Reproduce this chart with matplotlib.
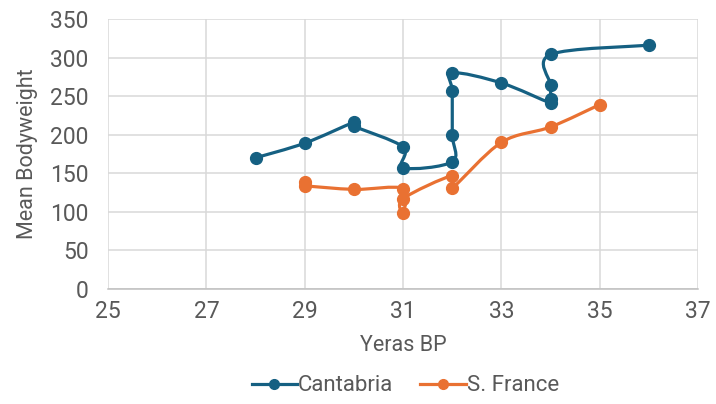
import matplotlib.pyplot as plt
from matplotlib.path import Path
from matplotlib.patches import PathPatch
from matplotlib.lines import Line2D

plt.rcParams['font.family'] = ['Roboto', 'DejaVu Sans']

# Cantabria series (years BP in thousands, mean bodyweight)
cant_x = [28, 29, 30, 30, 31, 31, 32, 32, 32, 32, 33, 34, 34, 34, 34, 36]
cant_y = [170, 189, 216, 211, 184, 157, 165, 200, 256, 280, 267, 241, 246, 264, 304, 316]

# S. France series
fr_x = [29, 29, 30, 31, 31, 31, 32, 32, 33, 34, 35]
fr_y = [138, 134, 129, 130, 99, 117, 147, 131, 190, 210, 239]

x_ticks = [25, 27, 29, 31, 33, 35, 37]
y_ticks = [0, 50, 100, 150, 200, 250, 300, 350]

blue = '#156082'
orange = '#E97132'
grey = '#595959'


def smooth_path(xs, ys):
    # Catmull-Rom style bezier through every point (Excel "smoothed line")
    pts = list(zip(xs, ys))
    verts = [pts[0]]
    codes = [Path.MOVETO]
    n = len(pts)
    for i in range(n - 1):
        p0 = pts[i - 1] if i > 0 else pts[i]
        p1 = pts[i]
        p2 = pts[i + 1]
        p3 = pts[i + 2] if i + 2 < n else pts[i + 1]
        c1 = (p1[0] + (p2[0] - p0[0]) / 6, p1[1] + (p2[1] - p0[1]) / 6)
        c2 = (p2[0] - (p3[0] - p1[0]) / 6, p2[1] - (p3[1] - p1[1]) / 6)
        verts += [c1, c2, p2]
        codes += [Path.CURVE4] * 3
    return Path(verts, codes)


fig = plt.figure(figsize=(7.16, 4.04), dpi=100)
ax = fig.add_axes([0.151, 0.285, 0.824, 0.668])

for xs, ys, col in [(cant_x, cant_y, blue), (fr_x, fr_y, orange)]:
    ax.add_patch(PathPatch(smooth_path(xs, ys), facecolor='none', edgecolor=col,
                           linewidth=2.3, zorder=3, capstyle='round', joinstyle='round'))
    ax.plot(xs, ys, linestyle='none', marker='o', markersize=8.5, color=col, zorder=4)

ax.set_xlim(25, 37)
ax.set_ylim(0, 350)
ax.set_xticks(x_ticks)
ax.set_yticks(y_ticks)
ax.grid(True, color='#d9d9d9', linewidth=1.1, zorder=0)
ax.set_axisbelow(True)
for side in ['top', 'right', 'left']:
    ax.spines[side].set_visible(False)
ax.spines['bottom'].set_color('#bfbfbf')
ax.spines['bottom'].set_linewidth(1.1)
ax.tick_params(axis='both', length=0, labelsize=16.5, labelcolor=grey)
ax.tick_params(axis='y', pad=14)
ax.tick_params(axis='x', pad=8)

ax.set_xlabel('Yeras BP', fontsize=15.5, color=grey, labelpad=9)
ax.set_ylabel('Mean Bodyweight', fontsize=15.5, color=grey, labelpad=9)

handles = [
    Line2D([], [], color=blue, linewidth=2.3, marker='o', markersize=7),
    Line2D([], [], color=orange, linewidth=2.3, marker='o', markersize=7),
]
fig.legend(handles, ['Cantabria', 'S. France'], loc='center', bbox_to_anchor=(0.566, 0.045),
           ncol=2, frameon=False, fontsize=16, labelcolor=grey, handlelength=2.05,
           handletextpad=0.05, columnspacing=1.2)

fig.savefig('out.png', dpi=100)
